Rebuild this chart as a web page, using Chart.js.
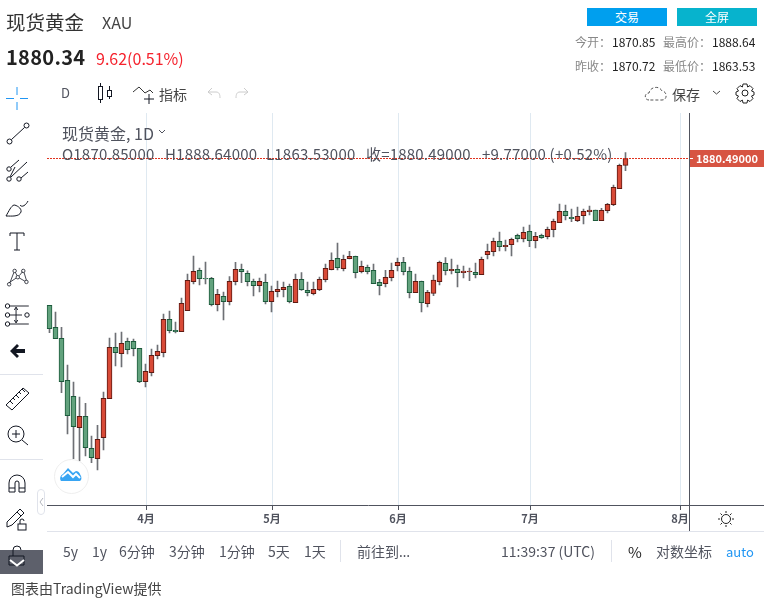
<!DOCTYPE html>
<html><head><meta charset="utf-8">
<script src="https://cdn.jsdelivr.net/npm/chart.js@4"></script>
<style>
html,body{margin:0;padding:0;background:#fff;width:764px;height:603px;overflow:hidden;font-family:"Noto Sans CJK SC","Noto Sans",sans-serif;}
#wrap{position:relative;width:764px;height:603px;}
canvas#c{position:absolute;left:0;top:0;}
.t{position:absolute;white-space:nowrap;line-height:1;color:#50535e;}
.s{position:absolute;overflow:visible;fill:none;stroke:#131722;stroke-width:1;}
.b{position:absolute;}
.lg{font-size:15px;letter-spacing:.2px;top:146px;z-index:1}
.bt{font-size:14px;top:544px}
</style></head><body><div id="wrap">
<canvas id="c" width="764" height="603"></canvas>

<div class="t" style="left:6px;top:12px;font-size:19.5px;color:#333">现货黄金</div>
<div class="t" style="left:102px;top:14px;font-size:16px;color:#444">XAU</div>
<div class="t" style="left:6px;top:47px;font-size:20px;font-weight:700;color:#222;letter-spacing:.3px">1880.34</div>
<div class="t" style="left:96px;top:50px;font-size:16px;color:#f5222d">9.62(0.51%)</div>

<div class="b" style="left:587px;top:8px;width:80px;height:18px;background:#009fee;color:#fff;font-size:12px;line-height:18px;text-align:center">交易</div>
<div class="b" style="left:677px;top:8px;width:80px;height:18px;background:#07b3cd;color:#fff;font-size:12px;line-height:18px;text-align:center">全屏</div>
<div class="t" style="left:575px;top:36px;font-size:12px;color:#888">今开：</div>
<div class="t" style="left:612px;top:36px;font-size:12px;color:#222">1870.85</div>
<div class="t" style="left:663px;top:36px;font-size:12px;color:#888">最高价：</div>
<div class="t" style="left:712px;top:36px;font-size:12px;color:#222">1888.64</div>
<div class="t" style="left:575px;top:60px;font-size:12px;color:#888">昨收：</div>
<div class="t" style="left:612px;top:60px;font-size:12px;color:#222">1870.72</div>
<div class="t" style="left:663px;top:60px;font-size:12px;color:#888">最低价：</div>
<div class="t" style="left:712px;top:60px;font-size:12px;color:#222">1863.53</div>

<!-- top toolbar -->
<div class="t" style="left:61px;top:86px;font-size:13px">D</div>
<svg class="s" style="left:96px;top:82px" width="20" height="22"><path d="M4.500 1v3M4.500 18v3M13.500 4v4M13.500 14v3"/><rect x="2.500" y="4.500" width="4" height="13"/><rect x="11.500" y="8.500" width="4" height="6"/></svg>
<svg class="s" style="left:131px;top:84px" width="26" height="22"><path d="M2 8l6-5 6 6 5-3 3 3" stroke="#333"/><path d="M18 10v10M13 15h10"/></svg>
<div class="t" style="left:159px;top:87px;font-size:14px;color:#444">指标</div>
<svg class="s" style="left:207px;top:86px;stroke:#ccc" width="14" height="14"><path d="M5 2L1 6l4 3M1 6h8c3 0 4 2 4 6"/></svg>
<svg class="s" style="left:235px;top:86px;stroke:#ccc" width="14" height="14"><path d="M9 2l4 4-4 3M13 6H5C2 6 1 8 1 12"/></svg>
<svg class="s" style="left:644px;top:84px;stroke:#555;stroke-dasharray:3 2" width="24" height="20"><path d="M5 16C0 16 0 9 5 9 6 3 15 1 18 7c5 0 6 9 0 9z"/></svg>
<div class="t" style="left:672px;top:87px;font-size:14px;color:#444">保存</div>
<svg class="s" style="left:712px;top:90px;stroke:#444" width="10" height="6"><path d="M1 1l3.500 3 3.500-3"/></svg>
<svg class="s" style="left:735px;top:83px;stroke:#222" width="20" height="20"><circle cx="10" cy="10" r="3"/><path d="M8 1h4l.6 3 2.400-1.400 3 3L16.500 8l2.500 1v3l-2.500 1 1.500 2.500-3 3-2.400-1.400-.6 2.900H8l-.6-2.900L5 18.500l-3-3L3.500 13 1 12V9l2.500-1L2 5.600l3-3L7.400 4z"/></svg>

<!-- chart legend -->
<div class="t" style="left:62px;top:125px;font-size:16px;z-index:1">现货黄金, 1D</div>
<svg class="s" style="left:158px;top:129px;stroke:#50535e" width="10" height="6"><path d="M1 1l3 3 3-3"/></svg>
<div class="t lg" style="left:62px">O1870.85000</div>
<div class="t lg" style="left:165px">H1888.64000</div>
<div class="t lg" style="left:266px">L1863.53000</div>
<div class="t lg" style="left:366px">收=1880.49000</div>
<div class="t lg" style="left:482px">+9.77000 (+0.52%)</div>

<!-- left toolbar -->
<svg class="s" style="left:5px;top:87px;stroke:#2196f3" width="24" height="24"><path d="M12 0v8M12 15v8M1 11.500h8M15 11.500h8"/></svg>
<svg class="s" style="left:5px;top:121px" width="24" height="24"><circle cx="4.500" cy="20.500" r="2.500"/><circle cx="21.500" cy="4.500" r="2.500"/><path d="M6.500 18.500L19.500 6.500"/></svg>
<svg class="s" style="left:5px;top:158px" width="24" height="24"><circle cx="4" cy="11" r="2.200"/><circle cx="4" cy="21" r="2.200"/><circle cx="14" cy="21" r="2.200"/><path d="M6 9l8-7M6 19L22 4M16 20l7-6M5 19l5-10"/></svg>
<svg class="s" style="left:5px;top:195px" width="26" height="24"><path d="M1 21c6 0 13 1 15-4 1-4-5-7-7-7-3 1-5 6-8 11z"/><path d="M15 10c2 3 6 0 8-4"/></svg>
<svg class="s" style="left:9px;top:232px" width="18" height="20"><path d="M1 4V1h14v3M8 1v17M5 18h6"/></svg>
<svg class="s" style="left:6px;top:266px" width="22" height="24" viewBox="0 0 28 24"><circle cx="4" cy="20" r="2.200"/><circle cx="11" cy="3" r="2.200"/><circle cx="15" cy="11" r="2.200"/><circle cx="22" cy="3" r="2.200"/><circle cx="26" cy="17" r="2.200"/><path d="M5 18L10 5M12 5l2 4M17 9l4-5M23 5l3 10M17 12l7 4M4 18L13 12"/></svg>
<svg class="s" style="left:5px;top:303px" width="26" height="24"><circle cx="2.500" cy="3" r="2.200"/><circle cx="2.500" cy="12" r="2.200"/><circle cx="2.500" cy="21" r="2.200"/><circle cx="22" cy="12" r="2.200"/><path d="M5 3h23M5 12h15M5 21h23M13 5v14M11 7l2-3 2 3M11 17l2 3 2-3" transform="scale(.85 1)"/></svg>
<svg class="s" style="left:9px;top:343px;fill:#131722;stroke:none" width="18" height="16"><path d="M8 1L1 8l7 7 2-2-3-3h9V6H7l3-3z"/></svg>
<div class="b" style="left:0;top:374px;width:43px;height:1px;background:#e0e3eb"></div>
<svg class="s" style="left:5px;top:387px" width="26" height="24"><path d="M1 18L18 1l6 5L7 23z"/><path d="M5 14l3 3M8 11l2 2M11 8l3 3M14 5l2 2M17 2l3 3"/></svg>
<svg class="s" style="left:7px;top:425px" width="22" height="22"><circle cx="9" cy="9" r="8"/><path d="M15 15l6 5M5 9h8M9 5v8"/></svg>
<div class="b" style="left:0;top:459px;width:43px;height:1px;background:#e0e3eb"></div>
<svg class="s" style="left:8px;top:474px" width="18" height="20"><path d="M1 18V9a8 8 0 0 1 16 0v9h-6V9a2 2 0 0 0-4 0v9zM1 14h6M11 14h6"/></svg>
<svg class="s" style="left:6px;top:507px" width="24" height="24"><path d="M1 15L14 2l4 4L6 18l-5 2z"/><path d="M11 5l4 4"/><rect x="12" y="17" width="8" height="6"/><path d="M14 17v-3a2 2 0 0 1 4 0"/></svg>
<div class="b" style="left:0;top:550px;width:43px;height:24px;background:#5d606b"></div>
<svg class="s" style="left:8px;top:545px" width="18" height="22"><path d="M5 11V5a4 4 0 0 1 8 0"/><path d="M1 11h15v9H1z"/></svg>
<svg class="s" style="left:9px;top:559px;stroke:#fff;stroke-width:2" width="16" height="8"><path d="M1 1l7 5.500L15 1"/></svg>
<div class="b" style="left:37px;top:489px;width:8px;height:26px;border:1px solid #e0e3eb;border-radius:4px;box-sizing:border-box"></div>
<svg class="s" style="left:39px;top:498px;stroke:#b2b5be" width="5" height="8"><path d="M4 0L1 4l3 4"/></svg>

<!-- logo -->
<div class="b" style="left:54px;top:459px;width:33px;height:33px;border:1px solid #eee;border-radius:50%;background:#fff;z-index:2"></div>
<svg class="s" style="left:60px;top:466px;fill:#38a5f3;stroke:none;z-index:3" width="22" height="16"><path d="M1 15C-1 12 1 9 3 8l5-6 5 5 3-2c3 0 4 3 5 5 1 3 0 5-2 5z"/><path d="M2 11l6-5 5 5 3-3 4 4" stroke="#fff" stroke-width="2" fill="none"/></svg>

<!-- bottom -->
<div class="b" style="left:47px;top:531px;width:717px;height:1px;background:#e0e3eb"></div>
<div class="b" style="left:689px;top:505px;width:75px;height:1px;background:#50535e"></div>
<div class="b" style="left:689px;top:113px;width:1px;height:418px;background:#50535e"></div>
<svg class="s" style="left:718px;top:511px;stroke:#222" width="16" height="16"><circle cx="8" cy="8" r="4.500"/><path d="M8 0v2M8 14v2M0 8h2M14 8h2M2.500 2.500l1.500 1.500M12 12l1.500 1.500M2.500 13.500L4 12M12 4l1.500-1.500"/></svg>
<div class="t bt" style="left:63px">5y</div>
<div class="t bt" style="left:92px">1y</div>
<div class="t bt" style="left:119px">6分钟</div>
<div class="t bt" style="left:169px">3分钟</div>
<div class="t bt" style="left:219px">1分钟</div>
<div class="t bt" style="left:268px">5天</div>
<div class="t bt" style="left:304px">1天</div>
<div class="b" style="left:340px;top:540px;width:1px;height:22px;background:#e0e3eb"></div>
<div class="t bt" style="left:357px">前往到<span style="font-family:'Noto Sans';letter-spacing:1.500px">…</span></div>
<div class="t bt" style="left:501px">11:39:37 (UTC)</div>
<div class="b" style="left:611px;top:540px;width:1px;height:22px;background:#e0e3eb"></div>
<div class="t" style="left:628px;top:544px;font-size:15px;color:#222">%</div>
<div class="t bt" style="left:656px">对数坐标</div>
<div class="t" style="left:726px;top:545px;font-size:13px;color:#2196f3">auto</div>
<div class="t" style="left:11px;top:581px;font-size:14px;color:#444">图表由TradingView提供</div>
</div>
<script>
const tickIndexes = [16, 37, 58, 80, 105];
const tickLabels = ['4月', '5月', '6月', '7月', '8月'];
const slotCount = 107;
const opens = [1676.5,1646.0,1630.7,1572.4,1550.1,1506.6,1522.4,1477.9,1463.6,1492.7,1546.9,1618.2,1609.4,1626.5,1626.5,1616.8,1570.5,1583.0,1606.6,1610.8,1657.1,1641.8,1640.0,1669.1,1709.4,1725.2,1714.0,1714.0,1677.5,1689.1,1681.7,1709.4,1726.6,1721.0,1709.9,1703.9,1708.5,1681.7,1695.5,1698.3,1703.0,1680.3,1712.7,1697.4,1692.8,1698.3,1712.2,1726.1,1741.8,1727.5,1741.4,1744.6,1723.3,1729.3,1725.2,1708.5,1706.7,1715.0,1731.7,1736.3,1723.8,1694.2,1709.9,1678.9,1693.2,1709.4,1734.9,1724.7,1726.6,1721.9,1722.9,1722.4,1719.1,1746.9,1751.1,1765.4,1758.0,1760.8,1773.8,1768.7,1779.3,1766.4,1773.8,1771.9,1781.7,1791.4,1807.1,1798.8,1794.2,1801.1,1806.7,1809.0,1794.2,1808.0,1816.4,1838.6,1870.85];
const closes = [1644.1,1630.2,1570.5,1523.3,1508.0,1522.4,1478.8,1465.0,1490.4,1547.4,1618.2,1610.8,1623.8,1615.0,1616.4,1570.5,1584.9,1607.1,1612.6,1657.1,1641.4,1640.0,1679.3,1711.3,1723.8,1713.6,1713.1,1677.5,1691.8,1681.7,1709.9,1726.6,1723.3,1709.4,1703.9,1709.9,1681.7,1696.0,1698.8,1701.6,1681.7,1712.7,1698.3,1694.2,1698.8,1712.7,1728.0,1739.1,1728.9,1740.5,1744.6,1721.9,1730.7,1723.3,1706.7,1703.9,1715.5,1725.2,1736.3,1723.3,1694.2,1709.9,1680.3,1694.6,1711.7,1736.3,1724.7,1726.6,1721.9,1724.2,1724.2,1719.1,1740.4,1751.6,1765.4,1758.0,1759.9,1768.2,1769.2,1777.9,1766.4,1772.4,1770.5,1782.1,1793.2,1807.1,1801.1,1796.9,1800.2,1807.1,1809.0,1794.2,1808.5,1816.8,1840.5,1871.0,1880.49];
const highs = [1676.5,1667.3,1646.0,1593.7,1570.1,1549.2,1540.4,1495.0,1509.9,1556.2,1631.2,1638.1,1639.5,1631.2,1629.8,1616.8,1595.1,1615.9,1621.4,1664.5,1668.7,1653.4,1686.7,1720.1,1745.1,1728.4,1736.7,1715.4,1698.8,1695.1,1716.4,1736.3,1734.0,1724.3,1713.1,1714.5,1720.1,1703.4,1710.4,1709.0,1706.2,1720.1,1721.9,1709.0,1709.0,1715.9,1734.0,1749.3,1763.1,1746.5,1751.6,1745.1,1738.1,1732.6,1734.0,1712.7,1725.2,1735.4,1742.3,1743.2,1729.8,1720.1,1710.4,1697.4,1718.7,1738.1,1742.8,1740.9,1732.6,1731.2,1728.4,1735.4,1743.7,1761.7,1770.1,1778.4,1767.3,1770.1,1775.6,1785.4,1788.1,1777.9,1775.6,1785.4,1796.5,1817.3,1815.9,1810.4,1813.1,1810.4,1814.5,1809.0,1811.3,1818.2,1843.7,1872.9,1888.64];
const lows = [1638.6,1630.2,1555.2,1497.8,1463.6,1460.3,1467.3,1458.0,1447.8,1475.6,1546.9,1592.3,1590.9,1608.9,1606.2,1569.1,1563.1,1578.4,1602.0,1604.8,1638.1,1638.1,1640.0,1669.1,1706.2,1704.8,1706.2,1675.6,1668.7,1656.2,1677.0,1704.8,1708.0,1703.4,1689.5,1695.1,1678.4,1667.3,1688.1,1688.1,1679.8,1680.3,1697.4,1689.5,1690.9,1696.9,1709.0,1725.6,1725.6,1724.3,1740.9,1714.5,1721.5,1720.1,1706.7,1690.9,1702.0,1710.4,1724.3,1718.7,1686.7,1694.2,1667.3,1674.2,1690.0,1704.8,1718.7,1720.1,1702.0,1714.5,1710.8,1714.5,1719.1,1740.9,1745.1,1752.0,1752.0,1745.1,1764.5,1764.5,1758.0,1756.2,1769.6,1768.7,1771.5,1791.4,1795.1,1792.8,1792.8,1789.5,1802.0,1794.2,1794.2,1804.8,1815.0,1838.6,1863.53];

const categories = Array.from({length: slotCount}, (_, i) => String(i));
const bodies = opens.map((o, i) => [o, closes[i]]);
const wicks = highs.map((h, i) => [lows[i], h]);
const up = (c) => closes[c.dataIndex] >= opens[c.dataIndex];

const shiftPlugin = {
  id: 'shift',
  beforeDatasetsDraw(c) { c.ctx.save(); c.ctx.translate(-0.5, 0); },
  afterDatasetsDraw(c) {
    c.ctx.restore();
    const ctx = c.ctx, last = closes[closes.length - 1];
    const y = Math.floor(c.scales.y.getPixelForValue(last)) + 0.5;
    ctx.save();
    ctx.strokeStyle = '#e0331f'; ctx.lineWidth = 1; ctx.setLineDash([2, 1]);
    ctx.beginPath(); ctx.moveTo(c.chartArea.left, y); ctx.lineTo(c.chartArea.right, y); ctx.stroke();
    ctx.setLineDash([]);
    ctx.fillStyle = '#d75442';
    ctx.fillRect(c.chartArea.right, y - 8.5, 75, 17);
    ctx.fillStyle = '#fff';
    ctx.fillRect(c.chartArea.right, y - 0.5, 4, 1);
    ctx.font = 'bold 11px "Noto Sans CJK SC"';
    ctx.textAlign = 'center'; ctx.textBaseline = 'middle';
    ctx.fillText(last.toFixed(5), c.chartArea.right + 38, y + 0.5);
    ctx.restore();
  }
};

new Chart(document.getElementById('c'), {
  type: 'bar',
  data: {
    labels: categories,
    datasets: [
      { label: '实体', data: bodies, order: 1, barThickness: 5,
        backgroundColor: (c) => up(c) ? '#d84a37' : '#62a27d',
        borderColor: (c) => up(c) ? '#5e1a12' : '#1d5a3c',
        borderWidth: 1, borderSkipped: false },
      { label: '影线', data: wicks, order: 2, barThickness: 1,
        backgroundColor: '#6e7075', borderWidth: 0 }
    ]
  },
  options: {
    responsive: false, animation: false, events: [],
    layout: { padding: { left: 47, right: 75, top: 113, bottom: 72 } },
    datasets: { bar: { grouped: false } },
    plugins: { legend: { display: false }, tooltip: { enabled: false } },
    scales: {
      x: {
        type: 'category', offset: true,
        afterBuildTicks(axis) { axis.ticks = tickIndexes.map(v => ({ value: v })); },
        afterFit(axis) { axis.height = 26; },
        grid: { offset: false, color: '#dfe9f1', tickColor: '#50535e', tickLength: 5, drawTicks: true },
        border: { display: true, color: '#50535e' },
        ticks: { autoSkip: false, maxRotation: 0, padding: 2, color: '#50535e',
          font: { family: '"Noto Sans CJK SC"', size: 11, weight: 'bold' },
          callback: (v) => tickLabels[tickIndexes.indexOf(v)] }
      },
      y: { display: false, min: 1399.2, max: 1943.7 }
    }
  },
  plugins: [shiftPlugin]
});
</script>
</body></html>
